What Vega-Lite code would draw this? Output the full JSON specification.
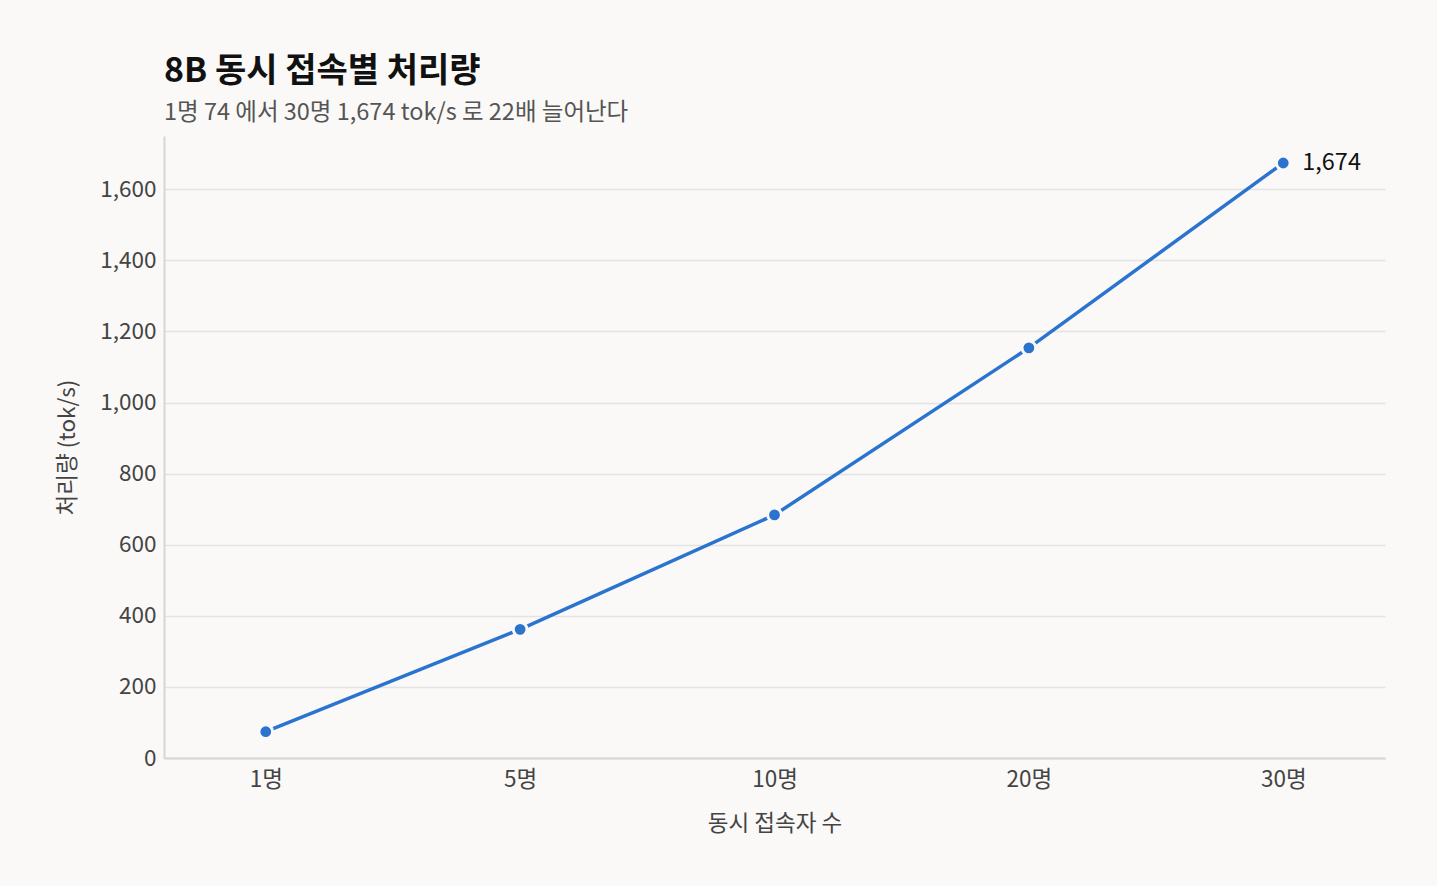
{
  "$schema": "https://vega.github.io/schema/vega-lite/v6.json",
  "autosize": {"type": "none"},
  "width": 1221,
  "height": 622,
  "padding": {"left": 164, "top": 136, "right": 52, "bottom": 128},
  "background": "#faf9f7",
  "title": {
    "text": "8B 동시 접속별 처리량",
    "subtitle": "1명 74 에서 30명 1,674 tok/s 로 22배 늘어난다",
    "anchor": "start",
    "frame": "group",
    "font": "Noto Sans CJK KR",
    "fontSize": 34,
    "fontWeight": "bold",
    "color": "#111111",
    "subtitleFont": "Noto Sans CJK KR",
    "subtitleFontSize": 23.5,
    "subtitleColor": "#555555",
    "subtitlePadding": 12,
    "offset": 12
  },
  "data": {
    "values": [
      {"users": "1명", "tps": 74},
      {"users": "5명", "tps": 362},
      {"users": "10명", "tps": 684},
      {"users": "20명", "tps": 1154},
      {"users": "30명", "tps": 1674}
    ]
  },
  "encoding": {
    "x": {
      "field": "users",
      "type": "ordinal",
      "sort": null,
      "scale": {"type": "point", "padding": 0.4},
      "axis": {"title": "동시 접속자 수", "labelAngle": 0, "labelPadding": 10, "titlePadding": 22}
    },
    "y": {
      "field": "tps",
      "type": "quantitative",
      "scale": {"domain": [0, 1750], "nice": false},
      "axis": {"title": "처리량 (tok/s)", "values": [0, 200, 400, 600, 800, 1000, 1200, 1400, 1600], "format": ",d", "grid": true, "titlePadding": 20}
    }
  },
  "layer": [
    {
      "mark": {"type": "line", "color": "#2a74d0", "strokeWidth": 3.5}
    },
    {
      "mark": {"type": "point", "filled": true, "size": 190, "color": "#2a74d0", "stroke": "#faf9f7", "strokeWidth": 3, "opacity": 1}
    },
    {
      "transform": [{"filter": "datum.users === '30명'"}],
      "mark": {"type": "text", "align": "left", "baseline": "middle", "dx": 19, "font": "Noto Sans CJK KR", "fontSize": 23.5, "color": "#111111"},
      "encoding": {"text": {"field": "tps", "type": "quantitative", "format": ",d"}}
    }
  ],
  "config": {
    "view": {"stroke": null},
    "font": "Noto Sans CJK KR",
    "axis": {
      "labelFont": "Noto Sans CJK KR",
      "labelFontSize": 22.5,
      "labelColor": "#444444",
      "titleFont": "Noto Sans CJK KR",
      "titleFontSize": 22.5,
      "titleFontWeight": "normal",
      "titleColor": "#444444",
      "domainColor": "#d6d6d6",
      "domainWidth": 2,
      "gridColor": "#e3e3e3",
      "gridWidth": 1.5,
      "ticks": false,
      "labelPadding": 8
    }
  }
}
